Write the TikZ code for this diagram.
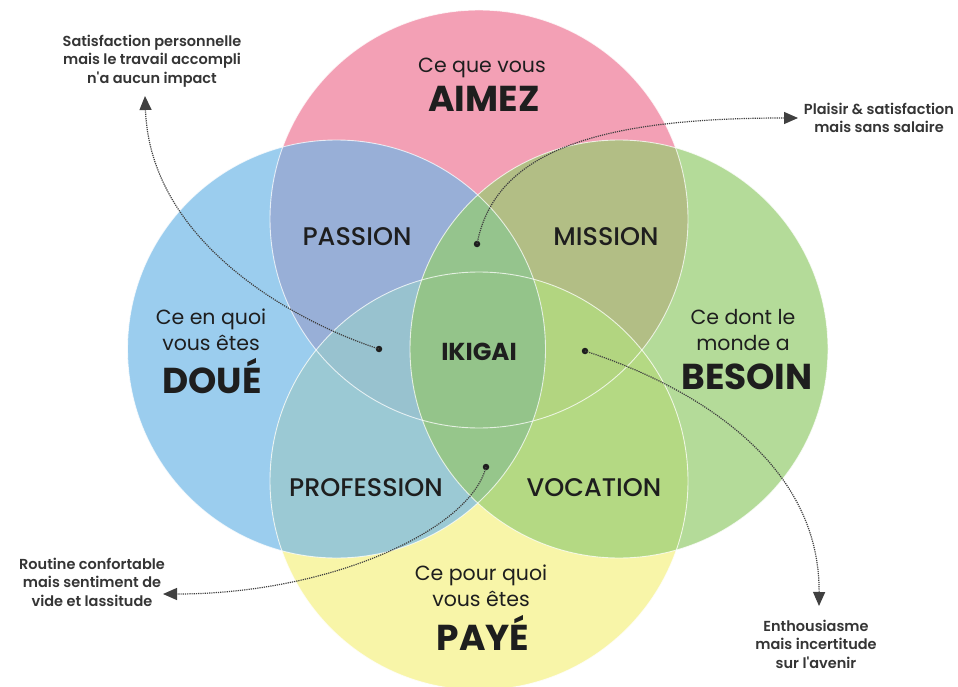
\documentclass[tikz,border=0pt]{standalone}
\usepackage{fontspec}
\setmainfont{Poppins}
\newfontfamily\popmed{Poppins Medium}
\newfontfamily\popsemi{Poppins SemiBold}
\usetikzlibrary{arrows.meta}
\definecolor{cP}{HTML}{F3A0B5}
\definecolor{cB}{HTML}{9BCDEE}
\definecolor{cG}{HTML}{B4DB99}
\definecolor{cY}{HTML}{F8F5A8}
\definecolor{cPB}{HTML}{98AFD7}
\definecolor{cPG}{HTML}{B2BE85}
\definecolor{cBY}{HTML}{9BC9D4}
\definecolor{cGY}{HTML}{B4D983}
\definecolor{cPBY}{HTML}{98C2CF}
\definecolor{cPGY}{HTML}{B2D580}
\definecolor{cPBG}{HTML}{95C48D}
\definecolor{cBGY}{HTML}{96C68B}
\definecolor{cAll}{HTML}{94C48A}
\definecolor{ink}{HTML}{1E1E1E}
\tikzset{
  big/.style={font=\fontsize{20.5}{26}\selectfont, text=ink, align=center, inner sep=0pt},
  huge/.style={font=\fontsize{36}{40}\bfseries\selectfont, text=ink, inner sep=0pt},
  zone/.style={font=\fontsize{25.5}{28}\popmed\selectfont, text=ink, inner sep=0pt},
  note/.style={font=\fontsize{14.5}{18.5}\popsemi\selectfont, text=ink!90, align=center, inner sep=0pt},
  dotmark/.style={circle, fill=ink, inner sep=0pt, minimum size=6.5pt},
  link/.style={densely dotted, line width=1.2pt, draw=ink!85, -{Triangle[length=14pt,width=12pt]}},
  rim/.style={draw=white, draw opacity=0.75, line width=0.9pt}
}
\begin{document}
\begin{tikzpicture}[x=1pt,y=-1pt]
\fill[white] (0,0) rectangle (958,687);
\useasboundingbox (0,0) rectangle (958,687);
\coordinate (P) at (479,219);
\coordinate (B) at (336.5,349);
\coordinate (G) at (619,349);
\coordinate (Y) at (479,481);
% single circles
\fill[cP] (P) circle[radius=209pt];
\fill[cB] (B) circle[radius=209pt];
\fill[cG] (G) circle[radius=209pt];
\fill[cY] (Y) circle[radius=209pt];
% pairs
\begin{scope}\clip (P) circle[radius=209pt]; \fill[cPB] (B) circle[radius=209pt]; \end{scope}
\begin{scope}\clip (P) circle[radius=209pt]; \fill[cPG] (G) circle[radius=209pt]; \end{scope}
\begin{scope}\clip (B) circle[radius=209pt]; \fill[cBY] (Y) circle[radius=209pt]; \end{scope}
\begin{scope}\clip (G) circle[radius=209pt]; \fill[cGY] (Y) circle[radius=209pt]; \end{scope}
% triples
\begin{scope}\clip (P) circle[radius=209pt]; \clip (B) circle[radius=209pt]; \fill[cPBY] (Y) circle[radius=209pt]; \end{scope}
\begin{scope}\clip (P) circle[radius=209pt]; \clip (G) circle[radius=209pt]; \fill[cPGY] (Y) circle[radius=209pt]; \end{scope}
\begin{scope}\clip (P) circle[radius=209pt]; \clip (B) circle[radius=209pt]; \fill[cPBG] (G) circle[radius=209pt]; \end{scope}
\begin{scope}\clip (B) circle[radius=209pt]; \clip (G) circle[radius=209pt]; \fill[cBGY] (Y) circle[radius=209pt]; \end{scope}
% all four
\begin{scope}\clip (P) circle[radius=209pt]; \clip (B) circle[radius=209pt]; \clip (G) circle[radius=209pt]; \fill[cAll] (Y) circle[radius=209pt]; \end{scope}
% rims
\path[rim] (P) circle[radius=209pt];
\path[rim] (B) circle[radius=209pt];
\path[rim] (G) circle[radius=209pt];
\path[rim] (Y) circle[radius=209pt];

% circle titles
\node[big] (aimeA) at (482,68) {Ce que vous};
\node[huge] (aimeB) at (484,99) {AIMEZ};
\node[big] (doueA) at (211,330) {Ce en quoi\\vous êtes};
\node[huge] (doueB) at (212,376) {DOUÉ};
\node[big] (besoinA) at (743,330.5) {Ce dont le\\monde a};
\node[huge] (besoinB) at (747,377) {BESOIN};
\node[big] (payeA) at (481,586) {Ce pour quoi\\vous êtes};
\node[huge] (payeB) at (483,633) {PAYÉ};

% intersections
\node[zone] (passion) at (357,237) {PASSION};
\node[zone] (mission) at (606,237) {MISSION};
\node[zone] (profession) at (366,488) {PROFESSION};
\node[zone] (vocation) at (594,488) {VOCATION};
\node[zone, font=\fontsize{24.5}{28}\bfseries\selectfont] (ikigai) at (479,352) {IKIGAI};

% notes
\node[note] (n1) at (152,61) {Satisfaction personnelle\\mais le travail accompli\\n'a aucun impact};
\node[note] (n2) at (879,118) {Plaisir \& satisfaction\\mais sans salaire};
\node[note] (n3) at (92,582) {Routine confortable\\mais sentiment de\\vide et lassitude};
\node[note] (n4) at (816,644) {Enthousiasme\\mais incertitude\\sur l'avenir};

% dots
\node[dotmark] (d1) at (379,349) {};
\node[dotmark] (d2) at (477,244) {};
\node[dotmark] (d3) at (486,467) {};
\node[dotmark] (d4) at (585,351) {};
\coordinate (t1) at (145,96);
\coordinate (t2) at (798,118);
\coordinate (t3) at (163,594);
\coordinate (t4) at (819,606);

\draw[link] (d1.center) .. controls (290,320) and (150,240) .. (t1);
\draw[link] (d2.center) .. controls (495,150) and (600,118) .. (t2);
\draw[link] (d3.center) .. controls (470,530) and (330,594) .. (t3);
\draw[link] (d4.center) .. controls (690,385) and (820,460) .. (t4);
\end{tikzpicture}
\end{document}
